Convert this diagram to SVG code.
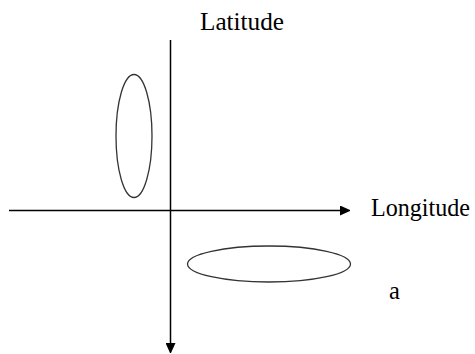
<svg xmlns="http://www.w3.org/2000/svg" width="475" height="354" viewBox="0 0 475 354">
<style>
.ax{stroke:#000;stroke-width:1.5;fill:none}
.el{stroke:#333;stroke-width:1.3;fill:none}
.t{font-family:"Liberation Serif","Times New Roman",serif;font-size:24.5px;fill:#000}
</style>
<defs>
<marker id="ah" markerWidth="10" markerHeight="10" refX="0" refY="5" orient="auto" markerUnits="userSpaceOnUse" viewBox="0 0 10 10">
<path d="M0,0 L11,5 L0,10 Z" fill="#000"/>
</marker>
</defs>
<rect width="475" height="354" fill="#fff"/>
<g id="connectors">
<line class="ax" x1="9" y1="210.5" x2="340" y2="210.5" marker-end="url(#ah)"/>
<line class="ax" x1="170.5" y1="40" x2="170.5" y2="343" marker-end="url(#ah)"/>
</g>
<g id="ellipse-vertical"><ellipse class="el" cx="134" cy="136" rx="18" ry="61.5"/></g>
<g id="ellipse-horizontal"><ellipse class="el" cx="269" cy="264" rx="81.5" ry="18"/></g>
<g id="label-latitude"><text class="t" x="200" y="30" textLength="84" lengthAdjust="spacingAndGlyphs">Latitude</text></g>
<g id="label-longitude"><text class="t" x="371" y="216" textLength="99" lengthAdjust="spacingAndGlyphs">Longitude</text></g>
<g id="label-a"><text class="t" x="389" y="299">a</text></g>
</svg>
